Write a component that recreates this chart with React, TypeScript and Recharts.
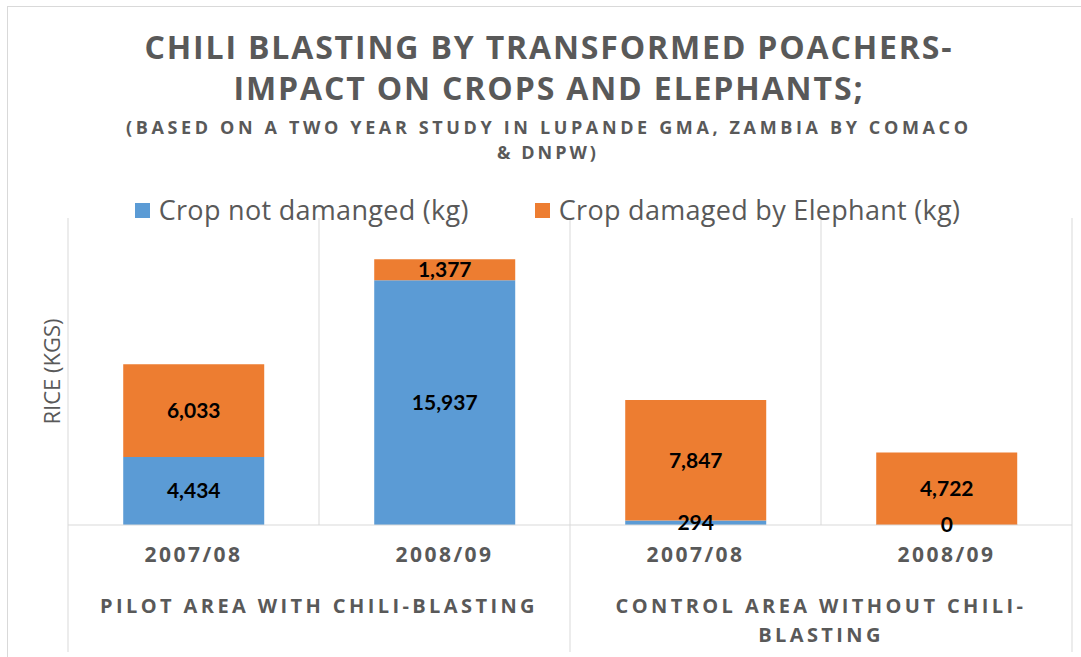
import { BarChart, Bar, XAxis, YAxis, CartesianGrid, LabelList, Legend } from 'recharts'

const W = 1081
const H = 657
const MARGIN = { top: 218, right: 9, bottom: 0, left: 0 }
const Y_AXIS_W = 68
const X_AXIS_H = 132

const years = ['2007/08', '2008/09', '2007/08', '2008/09']
const areaLines = [['PILOT AREA WITH CHILI-BLASTING'], ['CONTROL AREA WITHOUT CHILI-', 'BLASTING']]
const notDamaged = [4434, 15937, 294, 0]
const damaged = [6033, 1377, 7847, 4722]
const seriesNames = ['Crop not damanged (kg)', 'Crop damaged by Elephant (kg)']
const titleLines = ['CHILI BLASTING BY TRANSFORMED POACHERS-', 'IMPACT ON CROPS AND ELEPHANTS;']
const subtitleLines = ['(BASED ON A TWO YEAR STUDY IN LUPANDE GMA, ZAMBIA BY COMACO', '& DNPW)']
const yTitle = 'RICE (KGS)'

const data = years.map((year, i) => ({ year, notDamaged: notDamaged[i], damaged: damaged[i] }))

const GREY = '#595959'
const GRID = '#D9D9D9'
const BLUE = '#5B9BD5'
const ORANGE = '#ED7D31'

const plotWidth = W - MARGIN.left - MARGIN.right - Y_AXIS_W
const band = plotWidth / years.length

// year label + two-level group label under the axis
const CategoryTick = (props: any) => {
  const { x, y, index, payload } = props
  const groupIdx = Math.floor(index / 2)
  return (
    <g>
      <text x={x} y={y + 37} textAnchor='middle' fill={GREY} fontFamily='Open Sans' fontWeight={700} fontSize={21} letterSpacing={2.5}>
        {payload.value}
      </text>
      {index === 0 && <line x1={x - band / 2} x2={x - band / 2} y1={y} y2={y + 127} stroke={GRID} />}
      {index % 2 === 1 && <line x1={x + band / 2} x2={x + band / 2} y1={y} y2={y + 127} stroke={GRID} />}
      {index % 2 === 0 &&
        areaLines[groupIdx].map((line, j) => (
          <text key={j} x={x + band / 2} y={y + 88 + j * 29} textAnchor='middle' fill={GREY} fontFamily='Open Sans' fontWeight={700} fontSize={20} letterSpacing={3.4}>
            {line}
          </text>
        ))}
    </g>
  )
}

const YTitle = (props: any) => {
  const { viewBox } = props
  const cx = 51
  const cy = viewBox.y + viewBox.height / 2
  return (
    <text x={cx} y={cy} transform={`rotate(-90 ${cx} ${cy})`} textAnchor='middle' dominantBaseline='central' fill={GREY} fontFamily='Open Sans' fontSize={22}>
      {yTitle}
    </text>
  )
}

const LegendContent = (props: any) => {
  const items = [...(props.payload || [])].sort((a: any, b: any) => seriesNames.indexOf(a.value) - seriesNames.indexOf(b.value))
  return (
    <div style={{ display: 'flex', justifyContent: 'center', gap: 66, fontFamily: 'Open Sans', fontSize: 27, letterSpacing: 0.3, color: GREY, lineHeight: '34px' }}>
      {items.map((p: any) => (
        <div key={p.value} style={{ display: 'flex', alignItems: 'center' }}>
          <span style={{ display: 'inline-block', width: 15, height: 15, background: p.color, marginRight: 9 }} />
          <span>{p.value}</span>
        </div>
      ))}
    </div>
  )
}

const fmt = (v: any) => Number(v).toLocaleString('en-US')

export default function App() {
  return (
    <div style={{ position: 'absolute', left: 0, top: 0, width: W, height: H, background: '#fff' }}>
      <BarChart width={W} height={H} data={data} margin={MARGIN} barCategoryGap='22%'>
        <CartesianGrid
          horizontal={false}
          stroke={GRID}
          verticalCoordinatesGenerator={({ offset }: any) =>
            years.map((_, i) => offset.left + (i * offset.width) / years.length).concat(offset.left + offset.width)
          }
        />
        <XAxis dataKey='year' height={X_AXIS_H} interval={0} tickLine={false} tickSize={0} tickMargin={0} axisLine={{ stroke: GRID }} tick={<CategoryTick />} />
        <YAxis width={Y_AXIS_W} domain={[0, 20000]} tick={false} tickLine={false} axisLine={false} label={<YTitle />} />
        <Legend verticalAlign='middle' align='center' layout='horizontal' wrapperStyle={{ top: 193, left: 14, width: W - 14 }} content={<LegendContent />} />
        <Bar dataKey='notDamaged' name={seriesNames[0]} stackId='a' fill={BLUE} minPointSize={1} isAnimationActive={false}>
          <LabelList dataKey='notDamaged' position='center' formatter={fmt} fill='#000' fontFamily='Lato' fontWeight={700} fontSize={21} />
        </Bar>
        <Bar dataKey='damaged' name={seriesNames[1]} stackId='a' fill={ORANGE} isAnimationActive={false}>
          <LabelList dataKey='damaged' position='center' formatter={fmt} fill='#000' fontFamily='Lato' fontWeight={700} fontSize={21} />
        </Bar>
      </BarChart>
      <svg width={W} height={H} style={{ position: 'absolute', left: 0, top: 0, pointerEvents: 'none' }}>
        <rect x={7.5} y={6.5} width={W} height={H} fill='none' stroke={GRID} />
        <g fill={GREY} fontFamily='Open Sans' fontWeight={700} textAnchor='middle'>
          <text x={548} y={59} fontSize={32} textLength={807} lengthAdjust='spacing'>{titleLines[0]}</text>
          <text x={548} y={100} fontSize={32} textLength={629} lengthAdjust='spacing'>{titleLines[1]}</text>
          <text x={547} y={134} fontSize={18} textLength={842} lengthAdjust='spacing'>{subtitleLines[0]}</text>
          <text x={548} y={159} fontSize={18} letterSpacing={3}>{subtitleLines[1]}</text>
        </g>
      </svg>
    </div>
  )
}
